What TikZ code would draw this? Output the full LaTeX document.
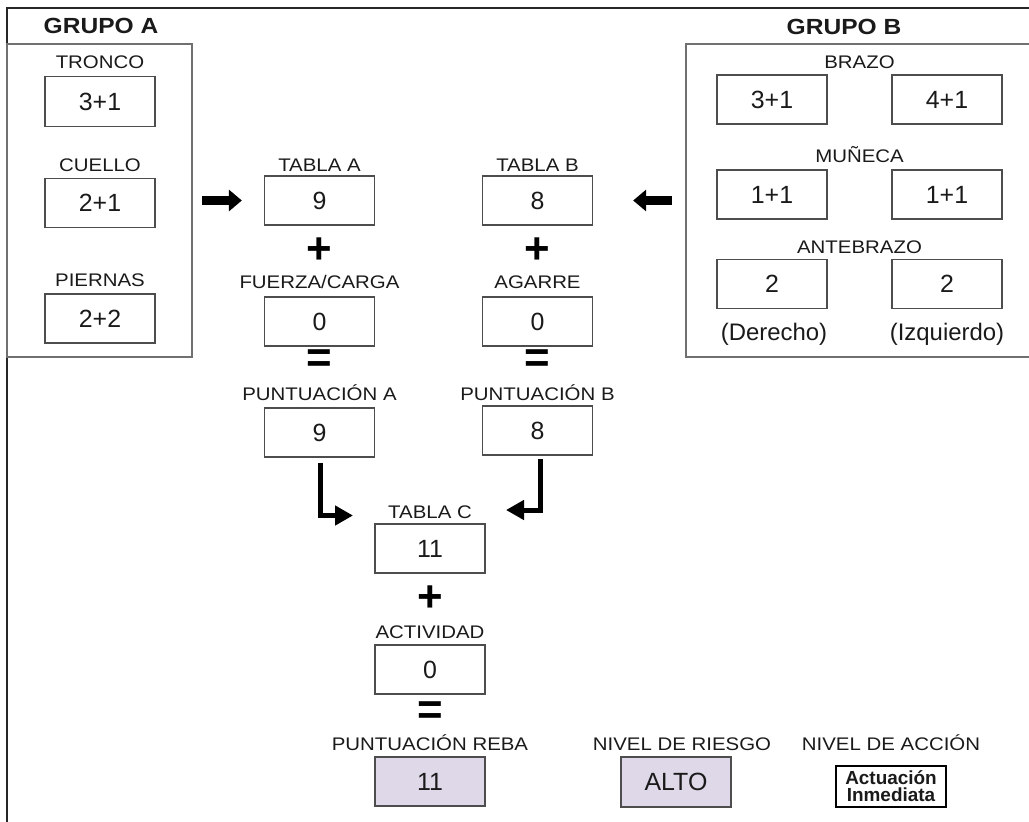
\documentclass[tikz,border=0pt]{standalone}
\usepackage{fontspec}
\setmainfont{Liberation Sans}
\newfontfamily\widefont{Liberation Sans}[FakeStretch=1.12]
\usetikzlibrary{arrows.meta,calc}
\definecolor{txt}{HTML}{1A1A1A}
\definecolor{boxline}{HTML}{4D4D4D}
\definecolor{grpline}{HTML}{707070}
\definecolor{frameline}{HTML}{262626}
\definecolor{lav}{RGB}{222,216,232}
\tikzset{
  lbl/.style={anchor=base, inner sep=0pt, text=txt, font=\widefont\fontsize{18.3}{18.3}\selectfont},
  ttl/.style={anchor=base, inner sep=0pt, text=txt, font=\widefont\fontsize{22}{22}\selectfont\bfseries},
  side/.style={anchor=base, inner sep=0pt, text=txt, font=\fontsize{24}{24}\selectfont},
  val/.style={draw=boxline, line width=1.3bp, minimum width=110bp, minimum height=49bp,
    inner sep=0pt, text=txt, font=\fontsize{25}{25}\selectfont},
  hl/.style={val, fill=lav},
  op/.style={inner sep=0pt, text=black, font=\fontsize{44}{44}\selectfont\bfseries},
  grp/.style={draw=grpline, line width=1.5bp, inner sep=0pt},
  blockarrow/.style={line width=9bp, black, -{Triangle[length=13bp,width=21bp]}},
  bent/.style={line width=5bp, black, -{Triangle[length=18bp,width=19bp]}},
}
\begin{document}
\begin{tikzpicture}[x=1bp,y=-1bp]
\useasboundingbox (0,0) rectangle (1029,822);
% outer frame (top and left)
\draw[frameline, line width=2bp] (1029,8) -- (7,8) -- (7,822);

% Group A
\node[ttl] (gA) at (101,34) {GRUPO A};
\node[grp, minimum width=185bp, minimum height=313bp] (grpA) at (99.5,200.5) {};
\node[lbl] (lTr) at (100,68.5) {TRONCO};
\node[val, minimum height=50bp] (vTr) at (100,101.5) {3+1};
\node[lbl] (lCu) at (100,171) {CUELLO};
\node[val] (vCu) at (100,203) {2+1};
\node[lbl] (lPi) at (100,286) {PIERNAS};
\node[val] (vPi) at (100,318.5) {2+2};

% Group B
\node[ttl] (gB) at (844,35) {GRUPO B};
\draw[grpline, line width=1.5bp] (1029,44) -- (686,44) -- (686,357) -- (1029,357);
\coordinate (grpBw) at (686,200.5);
\node[lbl] (lBr) at (859.5,69) {BRAZO};
\node[val] (vBrD) at (772,99.5) {3+1};
\node[val] (vBrI) at (947,99.5) {4+1};
\node[lbl] (lMu) at (859.5,162) {MUÑECA};
\node[val] (vMuD) at (772,194.5) {1+1};
\node[val] (vMuI) at (947,194.5) {1+1};
\node[lbl] (lAn) at (859.5,253) {ANTEBRAZO};
\node[val] (vAnD) at (772,284) {2};
\node[val] (vAnI) at (947,284) {2};
\node[side] (lDer) at (774,340) {(Derecho)};
\node[side] (lIzq) at (947,340) {(Izquierdo)};

% Column A
\node[lbl] (lTA) at (319.5,171) {TABLA A};
\node[val] (tA) at (319.5,200.5) {9};
\node[op] (plA) at (319.5,251) {+};
\node[lbl] (lFC) at (319.5,288) {FUERZA/CARGA};
\node[val] (fc) at (319.5,321.5) {0};
\node[op] (eqA) at (319.5,361) {=};
\node[lbl] (lPA) at (319.5,400) {PUNTUACIÓN A};
\node[val] (pA) at (319.5,432.5) {9};

% Column B
\node[lbl] (lTB) at (537.5,171) {TABLA B};
\node[val] (tB) at (537.5,200.5) {8};
\node[op] (plB) at (537.5,251) {+};
\node[lbl] (lAg) at (537.5,288) {AGARRE};
\node[val] (ag) at (537.5,321.5) {0};
\node[op] (eqB) at (537.5,361) {=};
\node[lbl] (lPB) at (537.5,400) {PUNTUACIÓN B};
\node[val] (pB) at (537.5,430.5) {8};

% Column C
\node[lbl] (lTC) at (430,518) {TABLA C};
\node[val] (tC) at (430,548.5) {11};
\node[op] (plC) at (430,599) {+};
\node[lbl] (lAc) at (430,638) {ACTIVIDAD};
\node[val] (ac) at (430,669.5) {0};
\node[op] (eqC) at (430,713) {=};
\node[lbl] (lRe) at (430,750) {PUNTUACIÓN REBA};
\node[hl] (re) at (430,781.5) {11};

% Risk / action
\node[lbl] (lRi) at (682,750) {NIVEL DE RIESGO};
\node[hl, minimum height=50bp] (ri) at (676,782) {ALTO};
\node[lbl] (lNa) at (891,750) {NIVEL DE ACCIÓN};
\node[val, draw=black, minimum height=41bp, align=center, font=\fontsize{19}{17}\selectfont\bfseries] (na) at (891,786.5) {Actuación\\Inmediata};

% arrows
\draw[blockarrow] ([xshift=9bp]grpA.east |- tA.center) -- ([xshift=-22bp]tA.west);
\draw[blockarrow] ([xshift=-14bp]grpBw) -- ([xshift=40bp]tB.east);
\coordinate (cA) at (353,515.5);
\coordinate (cB) at (506,510);
\draw[bent] ([xshift=1bp,yshift=-5bp]pA.south) |- (cA);
\draw[bent] ([xshift=3bp,yshift=-3bp]pB.south) |- (cB);
\end{tikzpicture}
\end{document}
